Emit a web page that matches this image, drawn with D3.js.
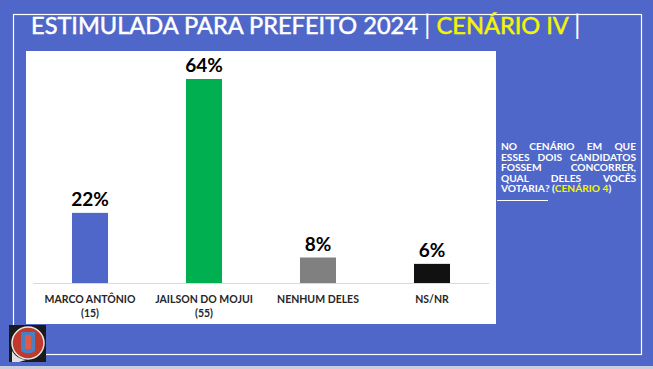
<!DOCTYPE html>
<html>
<head>
<meta charset="utf-8">
<script src="https://cdn.jsdelivr.net/npm/d3@7"></script>
<style>
  html, body { margin: 0; padding: 0; background: #4f67c8; }
  svg { display: block; }
</style>
</head>
<body>
<svg width="653" height="369"></svg>
<script>
//	chart data
var categories = ["MARCO ANTÔNIO", "JAILSON DO MOJUI", "NENHUM DELES", "NS/NR"];
var subLabels = ["(15)", "(55)", "", ""];
var values = [22, 64, 8, 6];
var barColors = ["#4f67c8", "#00b050", "#808080", "#111111"];
var noteLines = ["NO CENÁRIO EM QUE", "ESSES DOIS CANDIDATOS", "FOSSEM CONCORRER,", "QUAL DELES VOCÊS"];

var svg = d3.select("svg");
var W = 653, H = 369;

//	background + frame
svg.append("rect").attr("width", W).attr("height", H).attr("fill", "#4f67c8");
svg.append("rect").attr("x", 0).attr("y", H - 3).attr("width", W).attr("height", 3).attr("fill", "#c9cde0");
svg.append("rect")
	.attr("x", 13.5).attr("y", 14.5)
	.attr("width", 628).attr("height", 340)
	.attr("fill", "none").attr("stroke", "#ffffff").attr("stroke-width", 1.2);

//	title (regular weight, lightly stroked to look medium)
var title = svg.append("text")
	.attr("x", 31).attr("y", 34)
	.attr("font-family", "Lato, 'Open Sans', sans-serif")
	.attr("font-size", 23.6)
	.attr("fill", "#ffffff")
	.attr("stroke", "#ffffff")
	.attr("stroke-width", 0.5);
title.append("tspan").text("ESTIMULADA PARA PREFEITO 2024 ");
title.append("tspan").attr("font-size", 26).attr("stroke-width", 0).text("|");
title.append("tspan").attr("fill", "#f5f500").attr("stroke", "#f5f500").text(" CENÁRIO IV ");
title.append("tspan").attr("font-size", 26).attr("stroke-width", 0).text("|");

//	plot panel
svg.append("rect").attr("x", 26).attr("y", 51).attr("width", 470).attr("height", 273).attr("fill", "#ffffff");

var x = d3.scaleBand().domain(categories).range([33, 489]).paddingInner(0.684).paddingOuter(0.342);
var y = d3.scaleLinear().domain([0, d3.max(values)]).range([283, 79]);

var g = svg.append("g");
g.selectAll("rect.bar")
	.data(values)
	.enter().append("rect")
		.attr("class", "bar")
		.attr("x", function(d, i) { return x(categories[i]); })
		.attr("y", function(d) { return y(d); })
		.attr("width", x.bandwidth())
		.attr("height", function(d) { return y(0) - y(d); })
		.attr("fill", function(d, i) { return barColors[i]; });

//	baseline
g.append("line")
	.attr("x1", 33).attr("x2", 489)
	.attr("y1", y(0) + 0.5).attr("y2", y(0) + 0.5)
	.attr("stroke", "#d9d9d9").attr("stroke-width", 1);

//	value labels
g.selectAll("text.val")
	.data(values)
	.enter().append("text")
		.attr("class", "val")
		.attr("x", function(d, i) { return x(categories[i]) + x.bandwidth() / 2; })
		.attr("y", function(d) { return y(d) - 7; })
		.attr("text-anchor", "middle")
		.attr("font-family", "Lato, sans-serif")
		.attr("font-weight", "bold")
		.attr("font-size", 19)
		.attr("fill", "#000000")
		.text(function(d) { return d + "%"; });

//	category labels
var cat = g.selectAll("text.cat")
	.data(categories)
	.enter().append("text")
		.attr("class", "cat")
		.attr("x", function(d) { return x(d) + x.bandwidth() / 2; })
		.attr("y", 303)
		.attr("text-anchor", "middle")
		.attr("font-family", "Lato, sans-serif")
		.attr("font-weight", "bold")
		.attr("font-size", 10.5)
		.attr("fill", "#262626");
cat.append("tspan").text(function(d) { return d; });
cat.append("tspan")
	.attr("x", function(d) { return x(d) + x.bandwidth() / 2; })
	.attr("dy", 14)
	.text(function(d, i) { return subLabels[i]; });

//	side note (justified lines)
var noteX0 = 501, noteX1 = 636;
var note = svg.append("g")
	.attr("font-family", "Lato, sans-serif")
	.attr("font-weight", "bold")
	.attr("font-size", 10.2)
	.attr("fill", "#ffffff");
noteLines.forEach(function(line, i) {
	var words = line.split(" ");
	var tmp = note.append("text").text(line.replace(/ /g, ""));
	var wTotal = tmp.node().getComputedTextLength();
	tmp.remove();
	var gap = (noteX1 - noteX0 - wTotal) / (words.length - 1);
	var cx = noteX0;
	words.forEach(function(w) {
		var s = note.append("text").attr("x", cx).attr("y", 150 + i * 10.5).text(w);
		cx += s.node().getComputedTextLength() + gap;
	});
});
var last = note.append("text").attr("x", noteX0).attr("y", 150 + 4 * 10.5);
last.append("tspan").text("VOTARIA? (");
last.append("tspan").attr("fill", "#f5f500").text("CENÁRIO 4");
last.append("tspan").text(")");
svg.append("line")
	.attr("x1", 497).attr("x2", 548).attr("y1", 200.5).attr("y2", 200.5)
	.attr("stroke", "#ffffff").attr("stroke-width", 1);

//	logo badge
var logo = svg.append("g").attr("transform", "translate(9,325)");
logo.append("rect").attr("width", 37).attr("height", 37).attr("fill", "#1a1a1a");
logo.append("circle").attr("cx", 19).attr("cy", 18).attr("r", 16).attr("fill", "#c0392b");
logo.append("circle").attr("cx", 19).attr("cy", 18).attr("r", 16).attr("fill", "none").attr("stroke", "#e8e8e8").attr("stroke-width", 1.5);
logo.append("path").attr("d", "M12,7 L26,7 L26,26 Q19,31 12,26 Z").attr("fill", "#4a7fc1");
logo.append("path").attr("d", "M16,10 L22,10 L22,24 L16,24 Z").attr("fill", "#e05a4a");
logo.append("path").attr("d", "M3,26 Q8,34 17,35 L10,37 L3,37 Z").attr("fill", "#e0e0e0");
</script>
</body>
</html>
